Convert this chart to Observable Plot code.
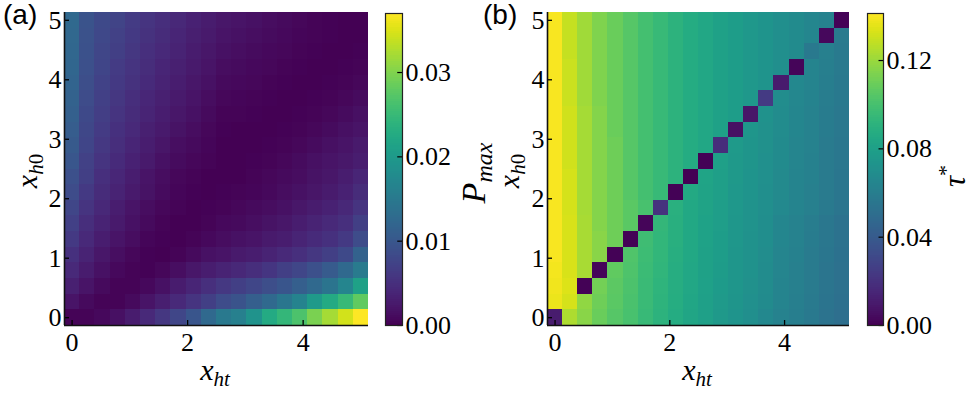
<!DOCTYPE html>
<html><head><meta charset="utf-8">
<script src="https://cdn.jsdelivr.net/npm/d3@7"></script>
<script src="https://cdn.jsdelivr.net/npm/@observablehq/plot@0.6"></script>
<style>
html,body{margin:0;padding:0;background:#fff;}
#root{position:relative;width:977px;height:394px;overflow:hidden;}
#root > svg{position:absolute;top:0;}
#root svg text{font-family:"Liberation Serif",serif;}
#root svg text.sans{font-family:"Liberation Sans",sans-serif;}
</style></head><body><div id="root"></div>
<script>
// grid of the two heatmaps: 20 points from 0 to 5
const xValues = [0, 0.263, 0.526, 0.789, 1.053, 1.316, 1.579, 1.842, 2.105, 2.368, 2.632, 2.895, 3.158, 3.421, 3.684, 3.947, 4.211, 4.474, 4.737, 5];
const yValues = [0, 0.263, 0.526, 0.789, 1.053, 1.316, 1.579, 1.842, 2.105, 2.368, 2.632, 2.895, 3.158, 3.421, 3.684, 3.947, 4.211, 4.474, 4.737, 5];
const xTicks = [0, 2, 4];
const yTicks = [0, 1, 2, 3, 4, 5];
const pmaxTicks = [0, 0.01, 0.02, 0.03];
const tauTicks = [0, 0.04, 0.08, 0.12];
const pmaxMax = 0.037;
const tauMax = 0.1413;

// (a) P_max, rows listed from x_h0 = 5 (top) down to x_h0 = 0 (bottom); columns x_ht = 0 .. 5
const pmaxRows = [
 [0.0125,0.0095,0.0082,0.0074,0.0065,0.0056,0.0048,0.0041,0.0034,0.0028,0.0022,0.0020,0.0017,0.0013,0.0010,0.0007,0.0004,0.0002,0.0001,0.0001],
 [0.0123,0.0093,0.0080,0.0071,0.0062,0.0053,0.0045,0.0038,0.0031,0.0025,0.0019,0.0017,0.0014,0.0011,0.0008,0.0005,0.0003,0.0002,0.0001,0.0001],
 [0.0122,0.0092,0.0078,0.0068,0.0059,0.0050,0.0042,0.0035,0.0028,0.0022,0.0016,0.0014,0.0011,0.0008,0.0006,0.0004,0.0002,0.0001,0.0001,0.0002],
 [0.0120,0.0090,0.0076,0.0065,0.0056,0.0047,0.0039,0.0032,0.0025,0.0019,0.0013,0.0011,0.0008,0.0006,0.0004,0.0002,0.0001,0.0001,0.0002,0.0004],
 [0.0118,0.0088,0.0073,0.0062,0.0053,0.0044,0.0036,0.0029,0.0022,0.0016,0.0010,0.0008,0.0006,0.0004,0.0002,0.0001,0.0001,0.0002,0.0004,0.0007],
 [0.0115,0.0085,0.0070,0.0059,0.0049,0.0040,0.0032,0.0025,0.0019,0.0013,0.0007,0.0005,0.0003,0.0002,0.0001,0.0001,0.0002,0.0004,0.0007,0.0011],
 [0.0112,0.0082,0.0067,0.0056,0.0046,0.0037,0.0029,0.0022,0.0016,0.0010,0.0004,0.0003,0.0002,0.0001,0.0001,0.0002,0.0004,0.0007,0.0011,0.0015],
 [0.0108,0.0079,0.0064,0.0052,0.0042,0.0033,0.0025,0.0018,0.0012,0.0007,0.0002,0.0001,0.0001,0.0001,0.0002,0.0004,0.0007,0.0011,0.0015,0.0020],
 [0.0104,0.0076,0.0060,0.0048,0.0038,0.0029,0.0021,0.0014,0.0009,0.0005,0.0001,0.0001,0.0001,0.0002,0.0004,0.0007,0.0011,0.0015,0.0020,0.0025],
 [0.0099,0.0072,0.0056,0.0044,0.0034,0.0025,0.0017,0.0011,0.0006,0.0003,0.0001,0.0001,0.0002,0.0004,0.0007,0.0011,0.0015,0.0020,0.0024,0.0030],
 [0.0090,0.0068,0.0050,0.0040,0.0030,0.0020,0.0012,0.0006,0.0003,0.0001,0.0001,0.0001,0.0003,0.0006,0.0009,0.0013,0.0018,0.0023,0.0029,0.0038],
 [0.0085,0.0062,0.0046,0.0035,0.0026,0.0018,0.0011,0.0005,0.0002,0.0001,0.0002,0.0003,0.0005,0.0008,0.0012,0.0016,0.0021,0.0027,0.0034,0.0046],
 [0.0078,0.0055,0.0041,0.0030,0.0020,0.0013,0.0007,0.0003,0.0001,0.0002,0.0004,0.0006,0.0009,0.0013,0.0017,0.0022,0.0028,0.0034,0.0041,0.0056],
 [0.0070,0.0048,0.0035,0.0025,0.0016,0.0009,0.0004,0.0001,0.0001,0.0003,0.0008,0.0010,0.0014,0.0018,0.0023,0.0029,0.0035,0.0042,0.0050,0.0068],
 [0.0062,0.0042,0.0030,0.0020,0.0012,0.0005,0.0002,0.0001,0.0004,0.0008,0.0012,0.0016,0.0020,0.0025,0.0030,0.0037,0.0044,0.0052,0.0062,0.0085],
 [0.0052,0.0036,0.0023,0.0014,0.0007,0.0002,0.0001,0.0004,0.0010,0.0016,0.0020,0.0025,0.0030,0.0036,0.0043,0.0050,0.0059,0.0068,0.0082,0.0115],
 [0.0042,0.0028,0.0016,0.0008,0.0003,0.0002,0.0006,0.0014,0.0022,0.0030,0.0036,0.0041,0.0048,0.0057,0.0068,0.0078,0.0090,0.0105,0.0125,0.0152],
 [0.0032,0.0019,0.0010,0.0004,0.0003,0.0008,0.0017,0.0028,0.0038,0.0050,0.0060,0.0068,0.0077,0.0088,0.0098,0.0110,0.0125,0.0142,0.0168,0.0212],
 [0.0020,0.0010,0.0004,0.0003,0.0009,0.0019,0.0031,0.0042,0.0055,0.0068,0.0085,0.0095,0.0110,0.0125,0.0145,0.0165,0.0200,0.0225,0.0250,0.0280],
 [0.0003,0.0003,0.0008,0.0015,0.0028,0.0042,0.0058,0.0078,0.0098,0.0125,0.0150,0.0160,0.0190,0.0225,0.0245,0.0265,0.0295,0.0320,0.0345,0.0370]
];

// (b) tau*, rows listed from x_h0 = 5 (top) down to x_h0 = 0 (bottom); columns x_ht = 0 .. 5
const tauRows = [
 [0.140,0.129,0.121,0.114,0.109,0.104,0.099,0.095,0.091,0.087,0.084,0.081,0.078,0.0755,0.073,0.070,0.0675,0.065,0.062,0.001],
 [0.140,0.129,0.121,0.114,0.109,0.104,0.099,0.095,0.091,0.087,0.084,0.081,0.078,0.0755,0.073,0.070,0.0675,0.065,0.003,0.058],
 [0.140,0.129,0.121,0.114,0.109,0.104,0.099,0.095,0.091,0.087,0.084,0.081,0.078,0.0755,0.073,0.070,0.0675,0.057,0.061,0.0575],
 [0.140,0.130,0.121,0.114,0.109,0.104,0.099,0.095,0.091,0.087,0.084,0.081,0.078,0.0755,0.073,0.070,0.002,0.064,0.0605,0.0575],
 [0.140,0.130,0.121,0.114,0.109,0.104,0.099,0.095,0.091,0.087,0.084,0.081,0.078,0.0755,0.073,0.010,0.066,0.0635,0.060,0.057],
 [0.140,0.130,0.121,0.114,0.109,0.104,0.099,0.095,0.091,0.087,0.084,0.081,0.078,0.0755,0.024,0.0685,0.0655,0.063,0.0595,0.057],
 [0.140,0.131,0.122,0.115,0.109,0.104,0.099,0.095,0.091,0.087,0.084,0.081,0.078,0.008,0.0715,0.068,0.065,0.0625,0.059,0.0565],
 [0.140,0.131,0.122,0.115,0.109,0.104,0.099,0.095,0.091,0.087,0.084,0.081,0.006,0.074,0.071,0.068,0.065,0.062,0.059,0.0565],
 [0.140,0.131,0.122,0.115,0.110,0.104,0.099,0.095,0.091,0.087,0.084,0.018,0.0765,0.0735,0.071,0.0675,0.0645,0.062,0.0585,0.056],
 [0.140,0.131,0.122,0.115,0.110,0.104,0.099,0.095,0.091,0.087,0.001,0.0795,0.076,0.0735,0.0705,0.0675,0.0645,0.0615,0.0585,0.056],
 [0.140,0.132,0.122,0.115,0.110,0.104,0.099,0.095,0.091,0.000,0.0825,0.079,0.076,0.073,0.0705,0.067,0.064,0.0615,0.058,0.0555],
 [0.140,0.132,0.122,0.115,0.110,0.104,0.099,0.095,0.001,0.0855,0.082,0.079,0.0755,0.073,0.070,0.067,0.064,0.061,0.058,0.0555],
 [0.140,0.132,0.122,0.115,0.110,0.105,0.100,0.020,0.0895,0.085,0.082,0.0785,0.0755,0.0725,0.070,0.0665,0.0635,0.061,0.0575,0.055],
 [0.140,0.133,0.123,0.115,0.110,0.105,0.002,0.0935,0.089,0.085,0.0815,0.0785,0.075,0.0725,0.069,0.065,0.062,0.0595,0.056,0.0535],
 [0.140,0.133,0.123,0.116,0.110,0.001,0.0975,0.093,0.089,0.0845,0.0815,0.078,0.075,0.072,0.069,0.065,0.062,0.059,0.056,0.053],
 [0.140,0.133,0.123,0.116,0.001,0.1025,0.097,0.093,0.0885,0.0845,0.081,0.078,0.0745,0.072,0.0685,0.0645,0.0615,0.0585,0.0555,0.0525],
 [0.139,0.133,0.123,0.002,0.107,0.102,0.0965,0.0925,0.088,0.084,0.081,0.0775,0.0745,0.0715,0.068,0.0645,0.061,0.058,0.055,0.052],
 [0.138,0.134,0.001,0.111,0.1055,0.1015,0.096,0.092,0.088,0.084,0.0805,0.077,0.074,0.071,0.068,0.064,0.061,0.058,0.055,0.052],
 [0.137,0.132,0.118,0.110,0.105,0.101,0.0955,0.0915,0.0875,0.0835,0.080,0.0765,0.0735,0.0705,0.0675,0.0635,0.0605,0.0575,0.0545,0.0515],
 [0.011,0.124,0.116,0.109,0.104,0.100,0.095,0.091,0.087,0.083,0.0795,0.076,0.073,0.070,0.066,0.0625,0.060,0.057,0.054,0.051]
];

const root = document.getElementById("root");
const H = 394, MT = 12, MB = 69;
const TICK = 5;
const SERIF = "'Liberation Serif', serif";

// cell edges: midpoints between neighbouring grid values, half a step beyond the ends
function edges(vals) {
  const n = vals.length;
  const e = [vals[0] - (vals[1] - vals[0]) / 2];
  for (let i = 1; i < n; i++) e.push((vals[i - 1] + vals[i]) / 2);
  e.push(vals[n - 1] + (vals[n - 1] - vals[n - 2]) / 2);
  return e;
}
const xe = edges(xValues), ye = edges(yValues);

function toCells(rows) {
  const cells = [];
  const n = rows.length;
  rows.forEach((row, i) => row.forEach((v, j) => {
    const k = n - 1 - i;
    cells.push({x1: xe[j], x2: xe[j + 1], y1: ye[k], y2: ye[k + 1], v});
  }));
  return cells;
}

function fixFonts(svg) {
  d3.select(svg).selectAll("g,text").style("font-family", SERIF);
}

function panel(rows, max, left, width, mL, mR) {
  const cells = toCells(rows);
  const domX = [xe[0], xe[xe.length - 1]];
  const domY = [ye[0], ye[ye.length - 1]];
  const pxY = (H - MT - MB) / (domY[1] - domY[0]);
  const pxX = (width - mL - mR) / (domX[1] - domX[0]);
  const svg = Plot.plot({
    width, height: H, marginLeft: mL, marginRight: mR, marginTop: MT, marginBottom: MB,
    style: {fontFamily: SERIF, fontSize: "26px", background: "transparent", overflow: "visible", color: "#000"},
    x: {domain: domX, ticks: xTicks, tickSize: 0, tickPadding: 7, tickFormat: d3.format("d"), label: null},
    y: {domain: domY, ticks: yTicks, tickSize: 0, tickPadding: 3, tickFormat: d3.format("d"), label: null},
    color: {type: "linear", scheme: "viridis", domain: [0, max]},
    marks: [
      Plot.rect(cells, {x1: "x1", x2: "x2", y1: "y1", y2: "y2", fill: "v", shapeRendering: "crispEdges"}),
      Plot.ruleX(xTicks, {x: d => d, y1: () => domY[0], y2: () => domY[0] + TICK / pxY, stroke: "#000", strokeWidth: 1.3}),
      Plot.ruleY(yTicks, {y: d => d, x1: () => domX[0], x2: () => domX[0] + TICK / pxX, stroke: "#000", strokeWidth: 1.3}),
      Plot.ruleX([domX[0]], {stroke: "#111", strokeWidth: 1.6}),
      Plot.ruleY([domY[0]], {stroke: "#111", strokeWidth: 1.6})
    ]
  });
  svg.style.left = left + "px";
  fixFonts(svg);
  root.appendChild(svg);
}

function colorbar(max, ticks, left, width, mL, mR) {
  const n = 156;
  const steps = d3.range(n).map(i => max * i / n);
  const dy = max / n;
  const svg = Plot.plot({
    width, height: H, marginLeft: mL, marginRight: mR, marginTop: 13, marginBottom: MB,
    style: {fontFamily: SERIF, fontSize: "26px", background: "transparent", overflow: "visible", color: "#000"},
    x: {domain: [0, 1], axis: null},
    y: {domain: [0, max], axis: "right", ticks, tickFormat: d3.format(".2f"), tickSize: 0, tickPadding: 3, label: null},
    color: {type: "linear", scheme: "viridis", domain: [0, max]},
    marks: [
      Plot.rect(steps, {x1: () => 0, x2: () => 1, y1: d => d, y2: d => Math.min(max, d + dy * 1.6), fill: d => d + dy / 2, shapeRendering: "crispEdges"}),
      Plot.ruleY(ticks, {y: d => d, x1: () => 0.72, x2: () => 1, stroke: "#000", strokeWidth: 1.2}),
      Plot.frame({stroke: "#222", strokeWidth: 1.2})
    ]
  });
  svg.style.left = left + "px";
  fixFonts(svg);
  root.appendChild(svg);
}

panel(pmaxRows, pmaxMax, 0, 380, 64, 12);
colorbar(pmaxMax, pmaxTicks, 380, 100, 5, 78);
panel(tauRows, tauMax, 480, 375, 67, 6);
colorbar(tauMax, tauTicks, 855, 122, 12, 94);

// labels
const lab = d3.select(root).append("svg").attr("width", 977).attr("height", 394).style("left", "0px");
function mathLabel(x, y, rot, main, sub, subItalic, mainSize, subSize, dy, extraUpright) {
  const t = lab.append("text")
    .attr("transform", `translate(${x},${y}) rotate(${rot})`)
    .attr("text-anchor", "middle")
    .attr("font-size", mainSize)
    .attr("fill", "#000");
  t.append("tspan").attr("font-style", "italic").text(main);
  t.append("tspan").attr("font-style", subItalic ? "italic" : "normal").attr("font-size", subSize).attr("dy", dy).text(sub);
  if (extraUpright) t.append("tspan").attr("font-style", "normal").attr("font-size", subSize).text(extraUpright);
}
lab.append("text").attr("class", "sans").attr("x", 3).attr("y", 24).attr("font-size", 28).text("(a)");
lab.append("text").attr("class", "sans").attr("x", 483).attr("y", 24).attr("font-size", 28).text("(b)");
mathLabel(215, 380, 0, "x", "ht", true, 30, 21, 6);
mathLabel(697, 380, 0, "x", "ht", true, 30, 21, 6);
mathLabel(37, 171, -90, "x", "h", true, 30, 21, 6, "0");
mathLabel(519, 171, -90, "x", "h", true, 30, 21, 6, "0");
mathLabel(485, 173, -90, "P", "max", true, 34, 24, 7);
mathLabel(965, 176, -90, "τ", "*", false, 31, 22, -12);
</script>
</body></html>
